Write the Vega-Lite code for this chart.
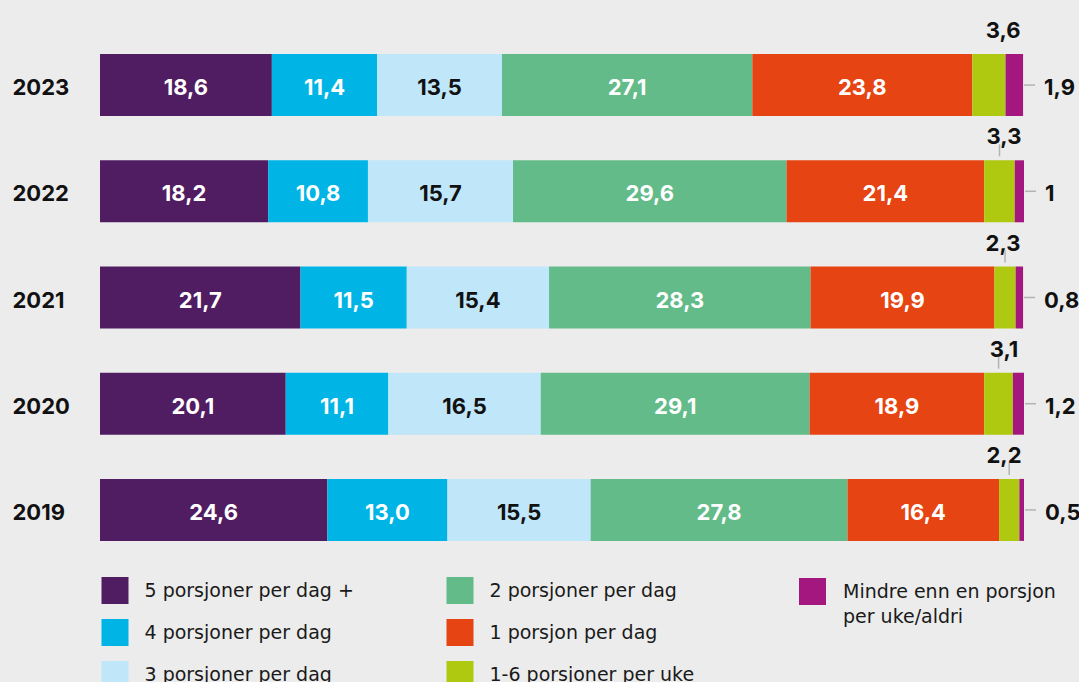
{
  "$schema": "https://vega.github.io/schema/vega-lite/v6.json",
  "width": 924,
  "height": 531,
  "autosize": {"type": "none"},
  "padding": {"left": 100, "top": 32, "right": 55, "bottom": 119},
  "background": "#ececec",
  "config": {
    "view": {"stroke": null},
    "font": "Inter",
    "legend": {"padding": 0},
    "style": {"guide-label": {"lineHeight": 25.5}}
  },
  "data": {
    "values": [
      {"year": "2023", "k": 1, "cat": "5 porsjoner per dag +", "value": 18.6, "label": "18,6"},
      {"year": "2023", "k": 2, "cat": "4 porsjoner per dag", "value": 11.4, "label": "11,4"},
      {"year": "2023", "k": 3, "cat": "3 porsjoner per dag", "value": 13.5, "label": "13,5"},
      {"year": "2023", "k": 4, "cat": "2 porsjoner per dag", "value": 27.1, "label": "27,1"},
      {"year": "2023", "k": 5, "cat": "1 porsjon per dag", "value": 23.8, "label": "23,8"},
      {"year": "2023", "k": 6, "cat": "1-6 porsjoner per uke", "value": 3.6, "label": "3,6"},
      {"year": "2023", "k": 7, "cat": "Mindre enn en porsjon per uke/aldri", "value": 1.9, "label": "1,9"},
      {"year": "2022", "k": 1, "cat": "5 porsjoner per dag +", "value": 18.2, "label": "18,2"},
      {"year": "2022", "k": 2, "cat": "4 porsjoner per dag", "value": 10.8, "label": "10,8"},
      {"year": "2022", "k": 3, "cat": "3 porsjoner per dag", "value": 15.7, "label": "15,7"},
      {"year": "2022", "k": 4, "cat": "2 porsjoner per dag", "value": 29.6, "label": "29,6"},
      {"year": "2022", "k": 5, "cat": "1 porsjon per dag", "value": 21.4, "label": "21,4"},
      {"year": "2022", "k": 6, "cat": "1-6 porsjoner per uke", "value": 3.3, "label": "3,3"},
      {"year": "2022", "k": 7, "cat": "Mindre enn en porsjon per uke/aldri", "value": 1.0, "label": "1"},
      {"year": "2021", "k": 1, "cat": "5 porsjoner per dag +", "value": 21.7, "label": "21,7"},
      {"year": "2021", "k": 2, "cat": "4 porsjoner per dag", "value": 11.5, "label": "11,5"},
      {"year": "2021", "k": 3, "cat": "3 porsjoner per dag", "value": 15.4, "label": "15,4"},
      {"year": "2021", "k": 4, "cat": "2 porsjoner per dag", "value": 28.3, "label": "28,3"},
      {"year": "2021", "k": 5, "cat": "1 porsjon per dag", "value": 19.9, "label": "19,9"},
      {"year": "2021", "k": 6, "cat": "1-6 porsjoner per uke", "value": 2.3, "label": "2,3"},
      {"year": "2021", "k": 7, "cat": "Mindre enn en porsjon per uke/aldri", "value": 0.8, "label": "0,8"},
      {"year": "2020", "k": 1, "cat": "5 porsjoner per dag +", "value": 20.1, "label": "20,1"},
      {"year": "2020", "k": 2, "cat": "4 porsjoner per dag", "value": 11.1, "label": "11,1"},
      {"year": "2020", "k": 3, "cat": "3 porsjoner per dag", "value": 16.5, "label": "16,5"},
      {"year": "2020", "k": 4, "cat": "2 porsjoner per dag", "value": 29.1, "label": "29,1"},
      {"year": "2020", "k": 5, "cat": "1 porsjon per dag", "value": 18.9, "label": "18,9"},
      {"year": "2020", "k": 6, "cat": "1-6 porsjoner per uke", "value": 3.1, "label": "3,1"},
      {"year": "2020", "k": 7, "cat": "Mindre enn en porsjon per uke/aldri", "value": 1.2, "label": "1,2"},
      {"year": "2019", "k": 1, "cat": "5 porsjoner per dag +", "value": 24.6, "label": "24,6"},
      {"year": "2019", "k": 2, "cat": "4 porsjoner per dag", "value": 13.0, "label": "13,0"},
      {"year": "2019", "k": 3, "cat": "3 porsjoner per dag", "value": 15.5, "label": "15,5"},
      {"year": "2019", "k": 4, "cat": "2 porsjoner per dag", "value": 27.8, "label": "27,8"},
      {"year": "2019", "k": 5, "cat": "1 porsjon per dag", "value": 16.4, "label": "16,4"},
      {"year": "2019", "k": 6, "cat": "1-6 porsjoner per uke", "value": 2.2, "label": "2,2"},
      {"year": "2019", "k": 7, "cat": "Mindre enn en porsjon per uke/aldri", "value": 0.5, "label": "0,5"}
    ]
  },
  "transform": [
    {"stack": "value", "groupby": ["year"], "sort": [{"field": "k", "order": "ascending"}], "as": ["x0", "x1"]},
    {"joinaggregate": [{"op": "sum", "field": "value", "as": "total"}], "groupby": ["year"]}
  ],
  "encoding": {
    "y": {
      "field": "year",
      "type": "nominal",
      "sort": "descending",
      "scale": {"paddingInner": 0.4165, "paddingOuter": 0.208},
      "axis": {
        "title": null,
        "domain": false,
        "ticks": false,
        "tickSize": 0,
        "labelAlign": "left",
        "labelPadding": 88,
        "labelBaseline": "middle",
        "labelOffset": 3,
        "labelFont": "Inter",
        "labelFontSize": 22,
        "labelFontWeight": "bold",
        "labelColor": "#111111"
      }
    }
  },
  "layer": [
    {
      "transform": [{"filter": "datum.k <= 6"}],
      "mark": {"type": "bar"},
      "encoding": {
        "x": {"field": "x0", "type": "quantitative", "scale": {"domain": [0, 100], "nice": false}, "axis": null},
        "x2": {"field": "x1"},
        "color": {
          "field": "cat",
          "type": "nominal",
          "scale": {
            "domain": ["5 porsjoner per dag +", "4 porsjoner per dag", "3 porsjoner per dag", "2 porsjoner per dag", "1 porsjon per dag", "1-6 porsjoner per uke"],
            "range": ["#501c62", "#00b5e6", "#bfe6f9", "#62bb88", "#e64413", "#aec90f"]
          },
          "legend": {
            "orient": "none",
            "legendX": 1.5,
            "legendY": 545,
            "columns": 2,
            "columnPadding": 92,
            "rowPadding": 15,
            "gridAlign": "each",
            "title": null,
            "symbolType": "square",
            "symbolSize": 729,
            "symbolStrokeWidth": 0,
            "labelFont": "DejaVu Sans",
            "labelFontSize": 19,
            "labelColor": "#1a1a1a",
            "labelOffset": 16,
            "labelLimit": 400
          }
        }
      }
    },
    {
      "transform": [{"filter": "datum.k == 7"}],
      "mark": {"type": "bar"},
      "encoding": {
        "x": {"field": "x0", "type": "quantitative", "axis": null},
        "x2": {"field": "x1"},
        "color": {
          "field": "cat",
          "type": "nominal",
          "scale": {"domain": ["Mindre enn en porsjon per uke/aldri"], "range": ["#a3177f"]},
          "legend": {
            "orient": "none",
            "legendX": 699,
            "legendY": 546,
            "title": null,
            "symbolType": "square",
            "symbolSize": 729,
            "symbolStrokeWidth": 0,
            "labelFont": "DejaVu Sans",
            "labelFontSize": 19,
            "labelColor": "#1a1a1a",
            "labelOffset": 17,
            "labelLimit": 400,
            "labelBaseline": "middle",
            "labelExpr": "datum.label == 'Mindre enn en porsjon per uke/aldri' ? ['Mindre enn en porsjon', 'per uke/aldri'] : datum.label"
          }
        }
      }
    },
    {
      "transform": [{"filter": "datum.k <= 5"}],
      "mark": {"type": "text", "font": "Inter", "fontSize": 22, "fontWeight": "bold", "baseline": "middle", "align": "center", "dy": 3},
      "encoding": {
        "x": {"field": "value", "type": "quantitative", "stack": "zero", "bandPosition": 0.5, "axis": null},
        "order": {"field": "k", "type": "quantitative"},
        "text": {"field": "label"},
        "color": {"condition": {"test": "datum.k == 3", "value": "#111111"}, "value": "#ffffff"}
      }
    },
    {
      "transform": [{"filter": "datum.k == 6"}],
      "mark": {"type": "text", "font": "Inter", "fontSize": 22, "fontWeight": "bold", "baseline": "alphabetic", "align": "center", "dx": -20, "dy": -16, "color": "#111111"},
      "encoding": {
        "x": {"field": "total", "type": "quantitative", "axis": null},
        "y": {"field": "year", "type": "nominal", "sort": "descending", "bandPosition": 0},
        "text": {"field": "label"}
      }
    },
    {
      "transform": [{"filter": "datum.k == 6 && datum.year != '2023'"}],
      "mark": {"type": "tick", "orient": "vertical", "size": 12, "thickness": 1.5, "color": "#b3b3b3", "opacity": 1, "yOffset": -41},
      "encoding": {
        "x": {"field": "x0", "type": "quantitative", "bin": "binned", "axis": null},
        "x2": {"field": "x1"}
      }
    },
    {
      "transform": [{"filter": "datum.k == 7"}],
      "mark": {"type": "rule", "color": "#b3b3b3", "strokeWidth": 1.5, "xOffset": 1, "x2Offset": 12},
      "encoding": {
        "x": {"field": "total", "type": "quantitative", "axis": null},
        "x2": {"field": "total"}
      }
    },
    {
      "transform": [{"filter": "datum.k == 7"}],
      "mark": {"type": "text", "font": "Inter", "fontSize": 22, "fontWeight": "bold", "baseline": "middle", "align": "left", "dx": 21, "dy": 3, "color": "#111111"},
      "encoding": {
        "x": {"field": "total", "type": "quantitative", "axis": null},
        "text": {"field": "label"}
      }
    }
  ],
  "resolve": {"scale": {"color": "independent"}}
}
